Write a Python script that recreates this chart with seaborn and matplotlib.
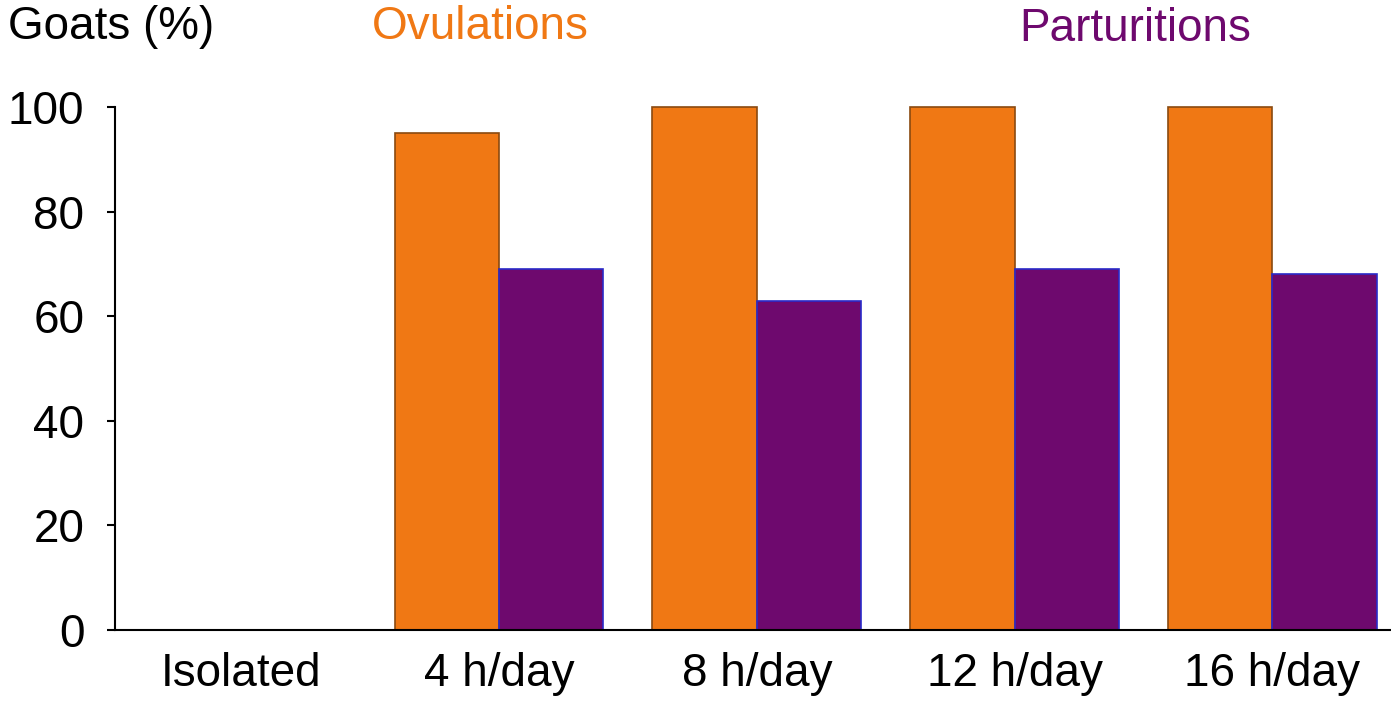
import matplotlib
matplotlib.use("Agg")
import matplotlib.pyplot as plt
import seaborn as sns
import pandas as pd

groups = ["Isolated", "4 h/day", "8 h/day", "12 h/day", "16 h/day"]
ovulations = [0, 95, 100, 100, 100]
parturitions = [0, 69, 63, 69, 68]

orange = "#F07814"
purple = "#6E096E"

df = pd.DataFrame({
    "group": groups * 2,
    "outcome": ["Ovulations"] * len(groups) + ["Parturitions"] * len(groups),
    "value": ovulations + parturitions,
})

sns.set_style("white")
plt.rcParams["font.family"] = ["Liberation Sans Narrow", "Liberation Sans", "DejaVu Sans"]
plt.rcParams["text.color"] = "black"
plt.rcParams["xtick.color"] = "black"
plt.rcParams["ytick.color"] = "black"

fig = plt.figure(figsize=(13.91, 7.03), dpi=100)
ax = fig.add_axes([115 / 1391, 73 / 703, 1 - 115 / 1391, 523 / 703])

sns.barplot(data=df, x="group", y="value", hue="outcome",
            palette={"Ovulations": orange, "Parturitions": purple},
            width=0.81, legend=False, ax=ax, saturation=1)

# darker rims, a bit like the bevelled bars of the original
for bar, ec in zip(ax.patches, ["#8A4A10"] * 5 + ["#2A2AC8"] * 5):
    bar.set_edgecolor(ec)
    bar.set_linewidth(1.2)
    bar.set_clip_on(False)

ax.set_xlim(-0.49, 4.46)
ax.set_ylim(0, 100)
ax.set_yticks([0, 20, 40, 60, 80, 100])
ax.set_xlabel("")
ax.set_ylabel("")
for s in ["top", "right"]:
    ax.spines[s].set_visible(False)
for s in ["left", "bottom"]:
    ax.spines[s].set_linewidth(1.5)
    ax.spines[s].set_color("black")
ax.tick_params(axis="y", left=True, length=6, width=1.5, labelsize=33, pad=16,
               labelcolor="black")
ax.tick_params(axis="x", bottom=False, labelsize=33, pad=12, labelcolor="black")

fig.text(8 / 1391, 1 - 27 / 703, "Goats (%)", fontsize=33, va="center", ha="left")
fig.text(480 / 1391, 1 - 27 / 703, "Ovulations", fontsize=33, va="center", ha="center", color=orange)
fig.text(1135 / 1391, 1 - 29 / 703, "Parturitions", fontsize=33, va="center", ha="center", color=purple)

fig.savefig("out.png", dpi=100)
